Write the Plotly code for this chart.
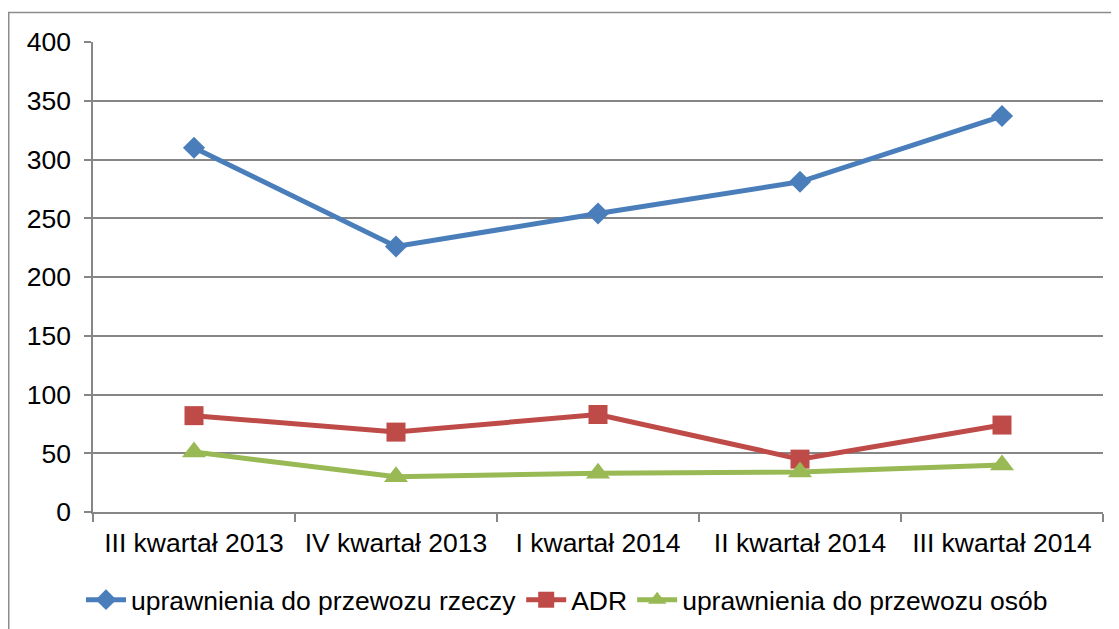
import plotly.graph_objects as go

categories = ["III kwartał 2013", "IV kwartał 2013", "I kwartał 2014", "II kwartał 2014", "III kwartał 2014"]
rzeczy = [310, 226, 254, 281, 337]
adr = [82, 68, 83, 45, 74]
osob = [51, 30, 33, 34, 40]

OFF = 8  # page body margin
W, H = 1119 - OFF, 629 - OFF
L, T = 93 - OFF, 42 - OFF
pw, ph = 1010, 470
R, B = W - L - pw, H - T - ph

def px(xp):
    return (xp - OFF - L) / pw

def py(yp):
    return (T + ph - (yp - OFF)) / ph

FONT = 26.5

fig = go.Figure()
fig.add_trace(go.Scatter(x=categories, y=rzeczy, name="uprawnienia do przewozu rzeczy",
                         mode="lines+markers", line=dict(color="#4A7EBB", width=5),
                         marker=dict(symbol="diamond", size=17, color="#4A7EBB")))
fig.add_trace(go.Scatter(x=categories, y=adr, name="ADR",
                         mode="lines+markers", line=dict(color="#BE4B48", width=5),
                         marker=dict(symbol="square", size=19, color="#BE4B48")))
fig.add_trace(go.Scatter(x=categories, y=osob, name="uprawnienia do przewozu osób",
                         mode="lines+markers", line=dict(color="#98B954", width=5),
                         marker=dict(symbol="triangle-up", size=21, color="#98B954")))

fig.add_shape(type="rect", xref="paper", yref="paper",
              x0=px(8.75), x1=px(1140), y0=py(650), y1=py(12.5),
              line=dict(color="#8C8C8C", width=1.5), fillcolor="rgba(0,0,0,0)", layer="below")

fig.update_layout(
    width=W, height=H,
    margin=dict(l=L, r=R, t=T, b=B, autoexpand=False),
    paper_bgcolor="white", plot_bgcolor="white",
    font=dict(family="Liberation Sans, Arial, sans-serif", size=FONT, color="black"),
    showlegend=True,
    legend=dict(orientation="h", x=px(567), xanchor="center", y=py(600), yanchor="middle",
                font=dict(size=FONT), itemwidth=40, tracegroupgap=0, bgcolor="rgba(0,0,0,0)"),
    xaxis=dict(type="category", showgrid=False, showline=True, linecolor="#868686", linewidth=1.5,
               ticks="outside", tickson="boundaries", ticklen=8, tickcolor="#868686", tickwidth=1.5,
               range=[-0.5, 4.5], fixedrange=True, automargin=False, ticklabelstandoff=6),
    yaxis=dict(range=[0, 400], dtick=50, showgrid=True, gridcolor="#868686", gridwidth=1.5,
               showline=True, linecolor="#868686", linewidth=1.5, ticks="outside", ticklen=7,
               tickcolor="#868686", tickwidth=1.5, zeroline=False, ticklabelstandoff=8,
               automargin=False),
)

fig.write_html("out.html")
